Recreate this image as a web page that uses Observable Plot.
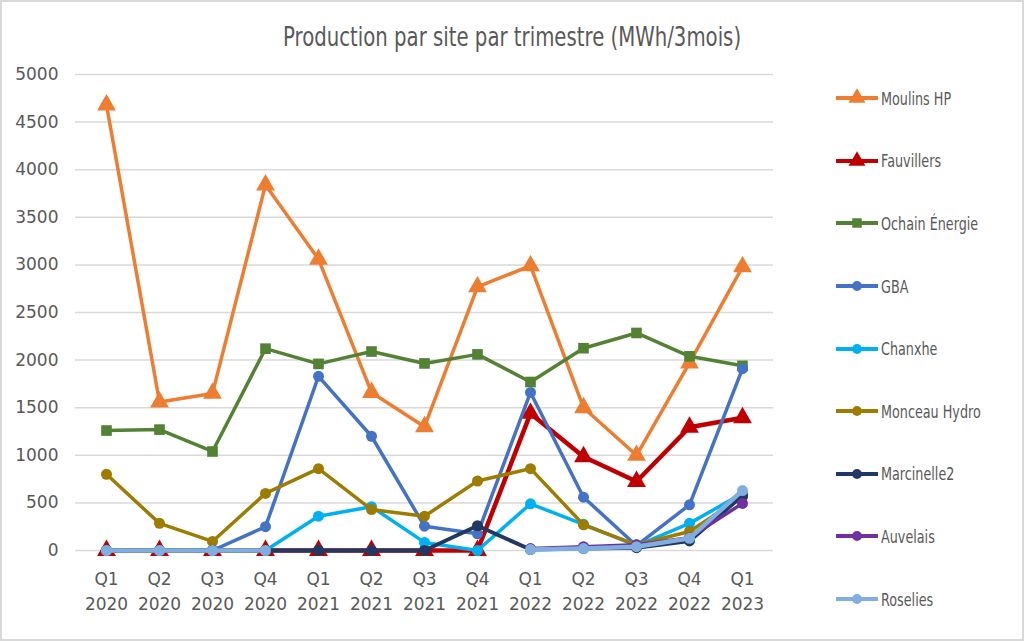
<!DOCTYPE html>
<html><head><meta charset="utf-8">
<script src="https://cdn.jsdelivr.net/npm/d3@7"></script>
<script src="https://cdn.jsdelivr.net/npm/@observablehq/plot@0.6"></script>
<style>
body{margin:0;background:#fff;}
#wrap{position:relative;width:1024px;height:641px;overflow:hidden;font-family:"DejaVu Sans",sans-serif;color:#595959;}
#frame{position:absolute;left:0;top:0;width:1020px;height:637px;border:2px solid #d9d9d9;pointer-events:none;}
#title{position:absolute;left:0;top:21px;width:1024px;text-align:center;font-size:27px;color:#595959;transform:scaleX(0.73);transform-origin:512px 0;}
#chart{position:absolute;left:0;top:60px;}
#legend{position:absolute;left:836px;top:67px;}
.item{display:flex;align-items:center;height:62.6px;font-size:18.5px;}
.item svg{margin-right:3px;}
.item span{display:inline-block;transform:scaleX(0.69);transform-origin:0 50%;white-space:nowrap;}
</style></head><body>
<div id="wrap"><div id="title">Production par site par trimestre (MWh/3mois)</div><div id="chart"></div><div id="legend"></div><div id="frame"></div></div>
<script>
const quarters = ["Q1 2020","Q2 2020","Q3 2020","Q4 2020","Q1 2021","Q2 2021","Q3 2021","Q4 2021","Q1 2022","Q2 2022","Q3 2022","Q4 2022","Q1 2023"];
const seriesNames = ["Moulins HP","Fauvillers","Ochain Énergie","GBA","Chanxhe","Monceau Hydro","Marcinelle2","Auvelais","Roselies"];
const moulinsHP   = [4680,1560,1650,3840,3060,1660,1300,2770,2990,1500,1000,1970,2980];
const fauvillers  = [0,0,0,0,0,0,0,0,1440,985,725,1295,1395];
const ochain      = [1260,1270,1040,2120,1960,2090,1965,2060,1770,2125,2285,2040,1940];
const gba         = [0,0,0,250,1830,1200,255,175,1660,560,50,480,1910];
const chanxhe     = [0,0,0,0,360,460,85,0,490,275,50,285,600];
const monceau     = [800,285,95,600,860,430,360,730,860,270,60,200,565];
const marcinelle2 = [0,0,0,0,0,0,0,260,10,20,30,100,575];
const auvelais    = [null,null,null,null,null,null,null,null,20,40,60,135,495];
const roselies    = [0,0,0,0,null,null,null,null,10,20,40,128,630];
const yTicks = [0,500,1000,1500,2000,2500,3000,3500,4000,4500,5000];

const values = [moulinsHP,fauvillers,ochain,gba,chanxhe,monceau,marcinelle2,auvelais,roselies];
const colors = ["#ED7D31","#C00000","#548235","#4472C4","#00B0F0","#9E7C00","#203864","#7030A0","#7FAEDF"];
const symbols = ["triangle","triangle","square","circle","circle","circle","circle","circle","circle"];
const widths = [3.5,4.5,3.5,3.5,3.5,3.5,4,3.5,4.5];
const radii = [7,7,6,5.5,5.5,5.5,5.5,5.5,5.5];

const marks = [
  Plot.ruleY(yTicks,{stroke:"#d9d9d9",strokeWidth:1.5}),
  Plot.axisY({ticks:yTicks,tickSize:0,tickPadding:17,fontSize:17,color:"#595959",label:null,tickFormat:d=>String(d)}),
  Plot.axisX({tickSize:0,tickPadding:17,fontSize:17,lineHeight:1.47,color:"#595959",label:null,tickFormat:d=>d.replace(" ","\n")})
];
seriesNames.forEach((name,i)=>{
  const rows = quarters.map((q,j)=>({q, v:values[i][j]}));
  marks.push(Plot.line(rows,{x:"q",y:"v",stroke:colors[i],strokeWidth:widths[i],defined:d=>d.v!=null}));
  marks.push(Plot.dot(rows.filter(d=>d.v!=null),{x:"q",y:"v",fill:colors[i],stroke:"none",symbol:symbols[i],r:radii[i]}));
});

const chart = Plot.plot({
  width:800,height:581,marginTop:14,marginBottom:91,marginLeft:75,marginRight:27,
  x:{type:"point",domain:quarters,padding:0.5},
  y:{domain:[0,5000]},
  style:{fontFamily:'"DejaVu Sans",sans-serif',background:"transparent"},
  marks
});
document.getElementById("chart").appendChild(chart);

const legend = document.getElementById("legend");
seriesNames.forEach((name,i)=>{
  const div = document.createElement("div"); div.className="item";
  const ns="http://www.w3.org/2000/svg";
  const svg=document.createElementNS(ns,"svg"); svg.setAttribute("width",42); svg.setAttribute("height",20);
  const l=document.createElementNS(ns,"line"); l.setAttribute("x1",0);l.setAttribute("x2",42);l.setAttribute("y1",10);l.setAttribute("y2",10);
  l.setAttribute("stroke",colors[i]);l.setAttribute("stroke-width",4);svg.appendChild(l);
  const p=document.createElementNS(ns,"path");
  const sym={triangle:d3.symbolTriangle,square:d3.symbolSquare,circle:d3.symbolCircle}[symbols[i]];
  p.setAttribute("d",d3.symbol(sym,Math.PI*radii[i]*radii[i]*0.8)());
  p.setAttribute("transform","translate(21,10)");p.setAttribute("fill",colors[i]);svg.appendChild(p);
  div.appendChild(svg);
  const t=document.createElement("span"); t.textContent=name; div.appendChild(t);
  legend.appendChild(div);
});
</script></body></html>
